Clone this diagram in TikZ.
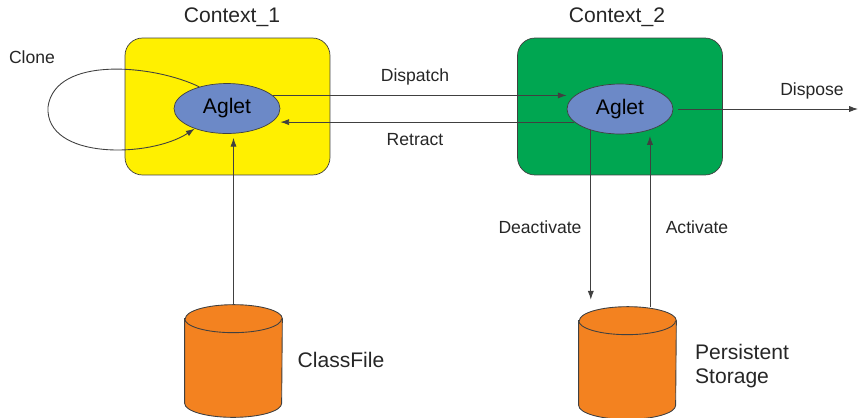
\documentclass[tikz,border=0pt]{standalone}
\usepackage{fontspec}
\setmainfont{Liberation Sans}
\usetikzlibrary{positioning,arrows.meta,shapes.geometric}

\definecolor{ctxyellow}{RGB}{255,240,0}
\definecolor{ctxgreen}{RGB}{0,166,81}
\definecolor{agletblue}{RGB}{108,137,199}
\definecolor{storeorange}{RGB}{243,130,32}
\definecolor{linegray}{RGB}{64,64,64}

\begin{document}
\begin{tikzpicture}[
        x=0.02cm, y=-0.02cm,
        context/.style={rectangle, draw=linegray, rounded corners=0.35cm, minimum width=4.1cm, minimum height=2.74cm},
        aglet/.style={ellipse, draw=linegray, fill=agletblue, minimum width=2.12cm, minimum height=1cm, inner sep=0pt, font=\fontsize{12}{14}\selectfont},
        storebox/.style={rectangle, minimum width=1.94cm, minimum height=2.24cm, inner sep=0pt},
        drum/.style={draw=linegray, fill=storeorange, line width=0.5pt},
        title/.style={font=\fontsize{12}{14}\selectfont, text=black!85},
        lbl/.style={font=\fontsize{10}{12}\selectfont, text=black!85},
        flow/.style={-{Latex[length=5pt,width=3.5pt]}, draw=linegray, line width=0.5pt}
      ]
      \useasboundingbox (0,0) rectangle (859,417);

      % Contexts
      \node[context, fill=ctxyellow] (ctx1) at (227.5,106.5) {};
      \node[context, fill=ctxgreen] (ctx2) at (620,106.5) {};
      \node[title] (ctx1lbl) at (232,17) {Context\_1};
      \node[title] (ctx2lbl) at (617,17) {Context\_2};

      % Aglets
      \node[aglet] (aglet1) at (227,108.5) {Aglet};
      \node[aglet] (aglet2) at (620,109) {Aglet};

      % Storage
      \node[storebox] (classfile) at (233.5,361) {};
      \node[storebox] (persist) at (627.5,363) {};
      \foreach \s in {classfile,persist} {
        \draw[drum] ([yshift=-0.28cm]\s.north west) -- ([yshift=0.28cm]\s.south west)
          arc[start angle=180, end angle=360, x radius=0.97cm, y radius=0.28cm]
          -- ([yshift=-0.28cm]\s.north east)
          arc[start angle=0, end angle=180, x radius=0.97cm, y radius=0.28cm] -- cycle;
        \draw[drum, fill=none] ([yshift=-0.28cm]\s.north west)
          arc[start angle=180, end angle=360, x radius=0.97cm, y radius=0.28cm];
      }
      \node[title] (cflbl) at (341,360) {ClassFile};
      \node[title, align=left] (pslbl) at (742,366) {Persistent\\Storage};

      \coordinate (gone) at (858,109);

      % Connections
      \draw[flow] (aglet1.16) -- (aglet1.16 -| aglet2.west);
      \draw[flow] (aglet2.196) -- (aglet2.196 -| aglet1.east);
      \draw[flow, shorten <=0.1cm] (aglet2.east) -- (gone);
      \node[lbl] (displbl) at (415,77) {Dispatch};
      \node[lbl] (retrlbl) at (415,140) {Retract};
      \node[lbl] (displbl2) at (812,91) {Dispose};
      \draw[flow, shorten >=0.08cm] (classfile.north) -- (classfile.north |- aglet1.south);
      \draw[flow, shorten >=0.14cm] (aglet2.216) -- (aglet2.216 |- persist.north);
      \draw[flow, shorten >=0.12cm] (persist.north -| aglet2.325) -- (aglet2.325);
      \node[lbl] (deaclbl) at (540,227) {Deactivate};
      \node[lbl] (actlbl) at (697,227) {Activate};

      % Clone loop
      \draw[flow] (aglet1.142) .. controls (155,65) and (55,55) .. (48,107)
        .. controls (45,160) and (150,158) .. (aglet1.212);
      \node[lbl] (clonelbl) at (32,57) {Clone};

    \end{tikzpicture}
\end{document}
